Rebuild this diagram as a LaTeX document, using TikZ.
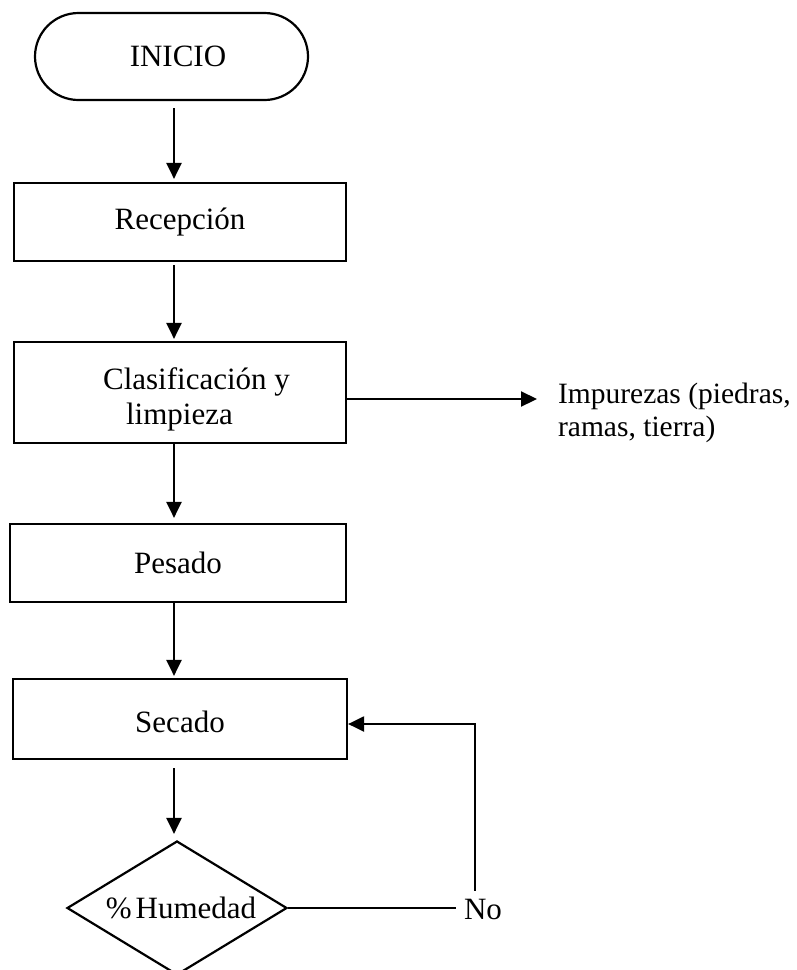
\documentclass[tikz,border=0pt]{standalone}
\usepackage{fontspec}
\setmainfont{Liberation Serif}
\usetikzlibrary{arrows.meta,shapes.geometric,shapes.misc}
\begin{document}
\begin{tikzpicture}[x=1pt,y=-1pt,
  line width=2.2pt,
  every node/.style={font=\fontsize{31}{35}\selectfont},
  stepbox/.style={draw, rectangle, inner sep=0pt, minimum width=332pt, minimum height=78pt},
  startbox/.style={draw, rounded rectangle, inner sep=0pt, minimum width=273pt, minimum height=87pt},
  decision/.style={draw, diamond, aspect=1.64, inner sep=0pt, minimum width=220pt, minimum height=134pt},
  plain/.style={inner sep=0pt},
  arr/.style={-{Triangle[length=16pt,width=15pt]}}
]
\fill[white] (0,0) rectangle (796,970);
\useasboundingbox (0,0) rectangle (796,970);

% process steps
\node[startbox] (start) at (171.5,56.5) {\hspace*{13pt}INICIO};
\node[stepbox] (rec) at (180,222) {Recepción};
\node[stepbox, minimum height=101pt, align=left] (clas) at (180,392.5)
  {\rule{0pt}{35pt}\hspace*{33pt}Clasificación y\\\hspace*{56pt}limpieza};
\node[stepbox, minimum width=336pt] (pes) at (178,563) {Pesado};
\node[stepbox, minimum width=334pt, minimum height=80pt] (sec) at (180,719) {\rule{0pt}{28pt}Secado};
\node[decision] (hum) at (177,908) {\hspace*{8pt}\%\hspace{4pt}Humedad};

% side labels
\node[plain, anchor=north west, align=left, font=\fontsize{29.5}{33}\selectfont]
  (imp) at (557,382) {Impurezas (piedras,\\ramas, tierra)};
\node[plain, anchor=base west] (no) at (463,919) {No};

% main flow column
\coordinate (ax) at (174,0);
\draw[arr, shorten <=7pt, shorten >=3pt] (start.south -| ax) -- (rec.north -| ax);
\draw[arr, shorten <=3pt, shorten >=2pt] (rec.south -| ax) -- (clas.north -| ax);
\draw[arr, shorten >=5pt] (clas.south -| ax) -- (pes.north -| ax);
\draw[arr, shorten >=2pt] (pes.south -| ax) -- (sec.north -| ax);
\draw[arr, shorten <=8pt, shorten >=6pt] (sec.south -| ax) -- (hum.north -| ax);

% impurities leaving the cleaning step
\draw[arr, shorten >=20pt] ([yshift=-6.5pt]clas.east) -- ([yshift=-6.5pt]clas.east -| imp.west);

% moisture loop back to drying
\coordinate (fb) at (475,724);
\draw[shorten >=7pt] (hum.east) -- (hum.east -| no.west);
\draw[arr, shorten <=7pt] (no.north -| fb) -- (fb) -- (sec.east |- fb);
\end{tikzpicture}
\end{document}
